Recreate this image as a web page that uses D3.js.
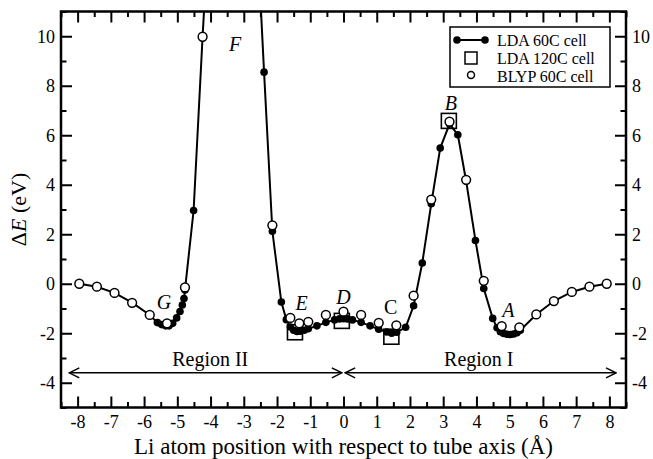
<!DOCTYPE html>
<html><head><meta charset="utf-8">
<script src="https://cdn.jsdelivr.net/npm/d3@7"></script>
<style>
html,body{margin:0;padding:0;background:#fff;}
svg text{font-family:"Liberation Serif","Times New Roman",serif;fill:#000;}
</style></head>
<body>
<svg id="chart" width="653" height="459"></svg>
<script>
// ---- data ----
const ldaX = [-7.95,-7.42,-6.89,-6.36,-5.83,-5.60,-5.47,-5.35,-5.25,-5.14,-5.02,-4.92,-4.85,-4.80,-4.77,-4.51,-4.24,-3.97,
  -2.65,-2.39,-2.14,-1.87,-1.72,-1.60,-1.50,-1.40,-1.30,-1.18,-1.06,-0.80,-0.53,-0.27,-0.12,0.0,0.12,0.27,0.53,0.80,1.06,
  1.30,1.45,1.60,1.87,2.11,2.37,2.64,2.91,3.19,3.44,3.69,3.97,4.22,4.49,4.62,4.72,4.82,4.92,5.02,5.12,5.22,5.32,
  5.80,6.33,6.87,7.40,7.92];
const ldaY = [0.0,-0.12,-0.37,-0.76,-1.26,-1.57,-1.65,-1.70,-1.70,-1.60,-1.38,-1.12,-0.86,-0.60,-0.25,2.96,9.98,16.5,
  15.5,8.55,2.12,-0.74,-1.45,-1.75,-1.88,-1.93,-1.92,-1.88,-1.82,-1.70,-1.56,-1.46,-1.42,-1.41,-1.42,-1.46,-1.56,-1.70,-1.84,
  -1.95,-2.0,-1.96,-1.76,-0.89,0.84,3.23,5.48,6.45,6.02,4.15,1.75,-0.19,-1.40,-1.78,-1.94,-2.01,-2.04,-2.05,-2.03,-1.98,-1.88,
  -1.24,-0.70,-0.33,-0.12,0.0];
const blypX = [-7.95,-7.42,-6.89,-6.36,-5.83,-5.31,-4.77,-4.24,-2.14,-1.60,-1.33,-1.06,-0.53,0,0.53,1.06,1.59,2.11,2.64,3.19,3.69,4.22,4.76,5.29,5.80,6.33,6.87,7.40,7.92];
const blypY = [0.0,-0.12,-0.37,-0.77,-1.26,-1.60,-0.15,9.98,2.36,-1.38,-1.60,-1.54,-1.26,-1.13,-1.26,-1.58,-1.68,-0.48,3.40,6.55,4.20,0.12,-1.71,-1.76,-1.24,-0.70,-0.33,-0.12,0.0];
const lda120X = [-1.46,-0.05,1.44,3.17];
const lda120Y = [-1.96,-1.50,-2.14,6.58];
const pointNames = ["F","G","E","D","C","B","A"];
const pointNameX = [-3.26,-5.40,-1.26,0.0,1.42,3.23,4.96];
const pointNameY = [9.69,-0.74,-0.79,-0.55,-0.93,7.32,-1.06];
const pointItalic = [true,true,true,true,false,true,true];
const regionNames = ["Region II","Region I"];
const regionFrom = [-8.25,0.05];
const regionTo = [-0.05,8.2];
const regionY = -3.6;
const regionLabelX = [-4.01,4.07];
const regionLabelY = -3.05;
const xMajorTicks = d3.range(-8,9,1);
const xMinorTicks = d3.range(-8.5,8.6,0.5).filter(v=>Math.abs(v%1)>0.1);
const yMajorTicks = [-4,-2,0,2,4,6,8,10];
const yMinorTicks = [-5,-3,-1,1,3,5,7,9,11];
const legendLabels = ["LDA 60C cell","LDA 120C cell","BLYP 60C cell"];

// ---- layout ----
const svg = d3.select("#chart");
const L=61, R=626, T=11.5, B=407.5;
const x = d3.scaleLinear().domain([-8.5,8.5]).range([L,R]);
const y = d3.scaleLinear().domain([-5,11]).range([B,T]);

svg.append("defs").append("clipPath").attr("id","clip")
  .append("rect").attr("x",L).attr("y",T).attr("width",R-L).attr("height",B-T);

const fmt = d=>String(d);
function styleAxis(g){ g.select(".domain").remove(); g.selectAll(".tick line").attr("stroke","#000").attr("stroke-width",2);
  g.attr("font-family",null);
  g.selectAll(".tick text").style("font-size","18px").style("font-family","'Liberation Serif', serif").attr("fill","#000"); }

// bottom
svg.append("g").attr("transform",`translate(0,${B})`).call(d3.axisBottom(x).tickValues(xMajorTicks).tickSize(-11).tickPadding(8).tickFormat(fmt)).call(styleAxis);
svg.append("g").attr("transform",`translate(0,${B})`).call(d3.axisBottom(x).tickValues(xMinorTicks).tickSize(-5.5).tickFormat("")).call(styleAxis);
// top
svg.append("g").attr("transform",`translate(0,${T})`).call(d3.axisTop(x).tickValues(xMajorTicks).tickSize(-11).tickFormat("")).call(styleAxis);
svg.append("g").attr("transform",`translate(0,${T})`).call(d3.axisTop(x).tickValues(xMinorTicks).tickSize(-5.5).tickFormat("")).call(styleAxis);
// left
svg.append("g").attr("transform",`translate(${L},0)`).call(d3.axisLeft(y).tickValues(yMajorTicks).tickSize(-11).tickPadding(6).tickFormat(fmt)).call(styleAxis);
svg.append("g").attr("transform",`translate(${L},0)`).call(d3.axisLeft(y).tickValues(yMinorTicks).tickSize(-5.5).tickFormat("")).call(styleAxis);
// right
svg.append("g").attr("transform",`translate(${R},0)`).call(d3.axisRight(y).tickValues(yMajorTicks).tickSize(-11).tickPadding(6).tickFormat(fmt)).call(styleAxis);
svg.append("g").attr("transform",`translate(${R},0)`).call(d3.axisRight(y).tickValues(yMinorTicks).tickSize(-5.5).tickFormat("")).call(styleAxis);

// frame
svg.append("rect").attr("x",L).attr("y",T).attr("width",R-L).attr("height",B-T)
  .attr("fill","none").attr("stroke","#000").attr("stroke-width",2.5);

// data
const plot = svg.append("g").attr("clip-path","url(#clip)");
const lda = ldaX.map((v,i)=>({x:v,y:ldaY[i]}));
const blyp = blypX.map((v,i)=>({x:v,y:blypY[i]}));
const l120 = lda120X.map((v,i)=>({x:v,y:lda120Y[i]}));
plot.append("path").datum(lda).attr("fill","none").attr("stroke","#000").attr("stroke-width",2)
  .attr("d",d3.line().x(d=>x(d.x)).y(d=>y(d.y)));
plot.selectAll("circle.lda").data(lda).join("circle").attr("class","lda")
  .attr("cx",d=>x(d.x)).attr("cy",d=>y(d.y)).attr("r",3.8).attr("fill","#000");
plot.selectAll("rect.l120").data(l120).join("rect").attr("class","l120")
  .attr("x",d=>x(d.x)-7.5).attr("y",d=>y(d.y)-7.5).attr("width",15).attr("height",15)
  .attr("fill","none").attr("stroke","#000").attr("stroke-width",1.6);
plot.selectAll("circle.blyp").data(blyp).join("circle").attr("class","blyp")
  .attr("cx",d=>x(d.x)).attr("cy",d=>y(d.y)).attr("r",4.4).attr("fill","#fff").attr("stroke","#000").attr("stroke-width",1.5);

// point labels
svg.selectAll("text.pname").data(pointNames).join("text").attr("class","pname")
  .attr("x",(d,i)=>x(pointNameX[i])).attr("y",(d,i)=>y(pointNameY[i])).attr("dy","0.35em")
  .attr("text-anchor","middle").style("font-size","20px")
  .style("font-style",(d,i)=>pointItalic[i]?"italic":"normal").text(d=>d);

// region arrows
const defs = svg.select("defs");
defs.append("marker").attr("id","arrE").attr("viewBox","0 0 12 12").attr("refX",11).attr("refY",6)
  .attr("markerWidth",12).attr("markerHeight",12).attr("markerUnits","userSpaceOnUse").attr("orient","auto-start-reverse")
  .append("path").attr("d","M1,1 L11,6 L1,11").attr("fill","none").attr("stroke","#000").attr("stroke-width",1.5);
regionNames.forEach((n,i)=>{
  svg.append("line").attr("x1",x(regionFrom[i])).attr("x2",x(regionTo[i])).attr("y1",y(regionY)).attr("y2",y(regionY))
    .attr("stroke","#000").attr("stroke-width",1.5).attr("marker-start","url(#arrE)").attr("marker-end","url(#arrE)");
  svg.append("text").attr("x",x(regionLabelX[i])).attr("y",y(regionLabelY)).attr("dy","0.35em")
    .attr("text-anchor","middle").style("font-size","20px").text(n);
});

// legend
const lg = svg.append("g");
lg.append("rect").attr("x",450).attr("y",27).attr("width",160).attr("height",60).attr("fill","#fff").attr("stroke","#000").attr("stroke-width",1.5);
const rowY = [40,58,76];
lg.append("line").attr("x1",457).attr("x2",485).attr("y1",rowY[0]).attr("y2",rowY[0]).attr("stroke","#000").attr("stroke-width",2);
[457,485].forEach(cx=>lg.append("circle").attr("cx",cx).attr("cy",rowY[0]).attr("r",3.8).attr("fill","#000"));
lg.append("rect").attr("x",465).attr("y",rowY[1]-6).attr("width",12).attr("height",12).attr("fill","none").attr("stroke","#000").attr("stroke-width",1.5);
lg.append("circle").attr("cx",471).attr("cy",rowY[2]-1).attr("r",3.5).attr("fill","#fff").attr("stroke","#000").attr("stroke-width",1.5);
legendLabels.forEach((t,i)=>lg.append("text").attr("x",497).attr("y",rowY[i]).attr("dy","0.35em").style("font-size","16px").text(t));

// axis titles
svg.append("text").attr("x",(L+R)/2).attr("y",454).attr("text-anchor","middle").style("font-size","23px")
  .text("Li atom position with respect to tube axis (Å)");
const yt = svg.append("text").attr("transform",`translate(26,${(T+B)/2}) rotate(-90)`).attr("text-anchor","middle").style("font-size","22px");
yt.append("tspan").text("Δ");
yt.append("tspan").style("font-style","italic").text("E");
yt.append("tspan").text(" (eV)");
</script>
</body></html>
